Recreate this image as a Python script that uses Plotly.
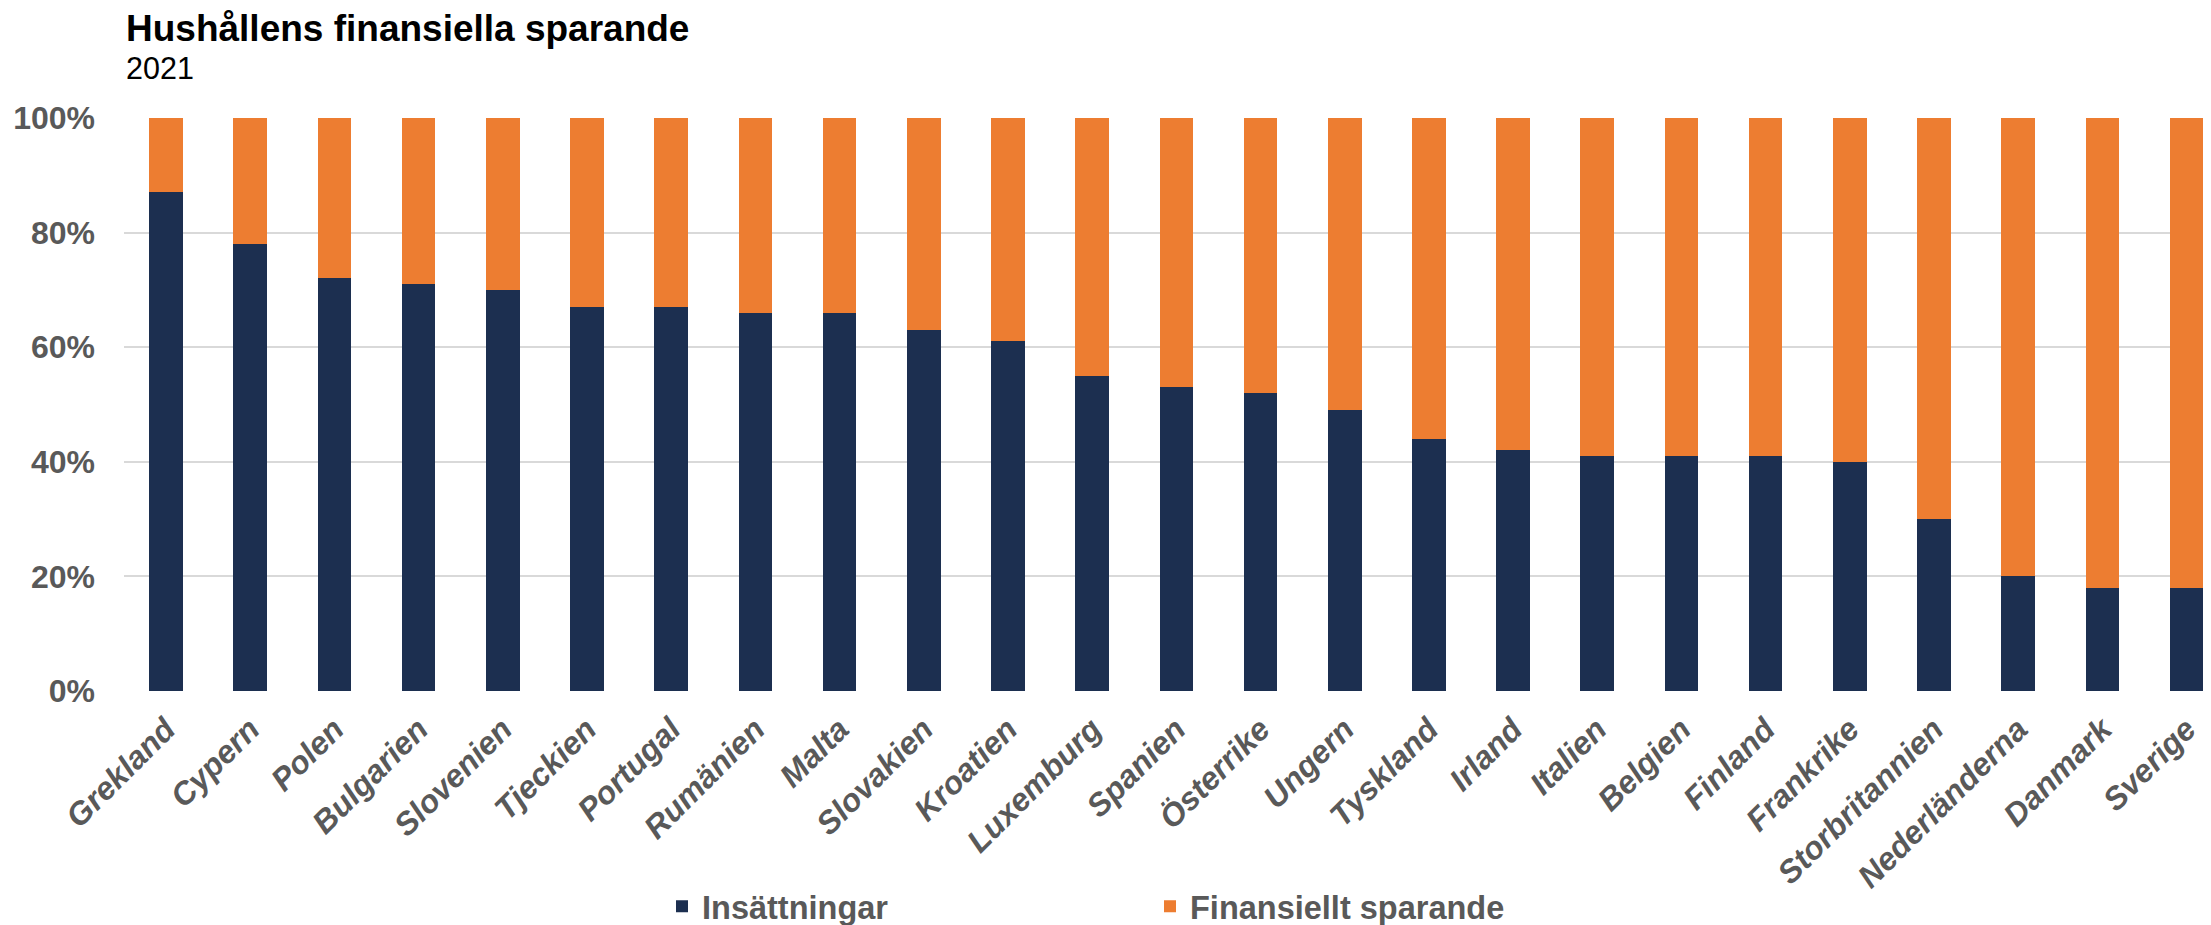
import plotly.graph_objects as go

countries = ["Grekland", "Cypern", "Polen", "Bulgarien", "Slovenien", "Tjeckien", "Portugal",
             "Rumänien", "Malta", "Slovakien", "Kroatien", "Luxemburg", "Spanien", "Österrike",
             "Ungern", "Tyskland", "Irland", "Italien", "Belgien", "Finland", "Frankrike",
             "Storbritannien", "Nederländerna", "Danmark", "Sverige"]
insattningar = [87, 78, 72, 71, 70, 67, 67, 66, 66, 63, 61, 55, 53, 52, 49, 44, 42, 41, 41, 41, 40,
                30, 20, 18, 18]
finansiellt = [100 - v for v in insattningar]
y_ticks = [0, 20, 40, 60, 80, 100]
y_tick_labels = ["0%", "20%", "40%", "60%", "80%", "100%"]

NAVY = "#1c2f50"
ORANGE = "#ed7d31"
GRAY = "#595959"
FONT = "Liberation Sans, Arial, sans-serif"

fig = go.Figure()
fig.add_trace(go.Bar(x=countries, y=insattningar, name="Insättningar",
                     marker=dict(color=NAVY, line=dict(width=0)), width=0.4))
fig.add_trace(go.Bar(x=countries, y=finansiellt, name="Finansiellt sparande",
                     marker=dict(color=ORANGE, line=dict(width=0)), width=0.4))

OFF = 8  # page body margin
W, H = 2211 - OFF, 925 - OFF
ml, mt = 124 - OFF, 118.4 - OFF
plot_bottom = 691.3 - OFF
mb = H - plot_bottom
plot_h = H - mt - mb
plot_w = W - ml

fig.update_layout(
    width=W, height=H,
    barmode="stack",
    plot_bgcolor="white", paper_bgcolor="white",
    margin=dict(l=ml, r=0, t=mt, b=mb, autoexpand=False),
    font=dict(family=FONT, color=GRAY),
    showlegend=True,
    legend=dict(orientation="h", x=(662 - 124) / plot_w, xanchor="left",
                y=-(907 - 691.3) / plot_h, yanchor="middle",
                font=dict(size=32.5, color=GRAY, family=FONT, weight="bold"),
                entrywidth=443, entrywidthmode="pixels", traceorder="normal",
                bgcolor="rgba(0,0,0,0)"),
    xaxis=dict(type="category", range=[-0.5, 24.29], tickangle=-45, automargin=False,
               tickfont=dict(size=32, color=GRAY, family=FONT, weight="bold", style="italic"),
               showgrid=False, showline=False, zeroline=False, ticks="",
               ticklabelstandoff=12),
    yaxis=dict(range=[0, 100], tickvals=y_ticks, ticktext=y_tick_labels, automargin=False,
               tickfont=dict(size=32, color=GRAY, family=FONT, weight="bold"),
               showgrid=True, gridcolor="#d9d9d9", gridwidth=2, zeroline=False,
               showline=False, ticks="", ticklabelstandoff=28),
)

fig.add_annotation(text="<b>Hushållens finansiella sparande</b>", xref="paper", yref="paper",
                   x=0, y=1 + (118.4 - 28.5) / plot_h, xanchor="left",
                   yanchor="middle", showarrow=False,
                   font=dict(size=37, color="black", family=FONT))
fig.add_annotation(text="2021", xref="paper", yref="paper",
                   x=0, y=1 + (118.4 - 68.5) / plot_h, xanchor="left",
                   yanchor="middle", showarrow=False,
                   font=dict(size=30.5, color="black", family=FONT))

fig.write_html("out.html")
